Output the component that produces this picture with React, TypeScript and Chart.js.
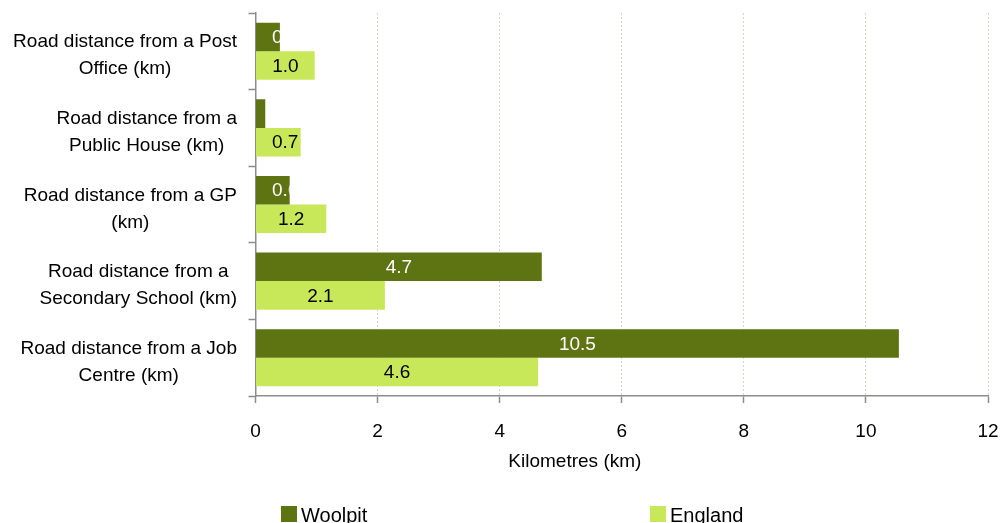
import React, { useEffect, useRef } from "react";
import { Chart, registerables } from "chart.js";

Chart.register(...registerables);

// ---- Data ----
const categories: string[][] = [
  ["Road distance from a Post", "Office (km)"],
  ["Road distance from a", "Public House (km)"],
  ["Road distance from a GP", "(km)"],
  ["Road distance from a", "Secondary School (km)"],
  ["Road distance from a Job", "Centre (km)"],
];
const seriesNames = ["Woolpit", "England"];
const woolpit = [0.4, 0.16, 0.56, 4.69, 10.54];
const england = [0.97, 0.74, 1.16, 2.12, 4.63];
const xTicks = [0, 2, 4, 6, 8, 10, 12];
const xTitle = "Kilometres (km)";

// ---- Styles ----
const FONT = "'Liberation Sans', Arial, sans-serif";
const colors = ["#5e7413", "#c8e85a"];
const labelColors = ["#ffffff", "#000000"];
const axisGray = "#8c8c8c";
const gridBeige = "#d8d3bf";

const customDraw = {
  id: "customDraw",
  afterDatasetsDraw(chart: any) {
    const { ctx, chartArea } = chart;
    ctx.save();
    ctx.font = `19px ${FONT}`;
    ctx.textAlign = "center";
    ctx.textBaseline = "middle";
    chart.data.datasets.forEach((ds: any, di: number) => {
      const meta = chart.getDatasetMeta(di);
      meta.data.forEach((el: any, i: number) => {
        const p = el.getProps(["x", "y", "base", "height"], true);
        const left = Math.min(p.base, p.x);
        const right = Math.max(p.base, p.x);
        const top = p.y - p.height / 2;
        const text = Number(ds.data[i]).toFixed(1);
        const cx = Math.max((left + right) / 2, chartArea.left + 29.7);
        ctx.save();
        ctx.beginPath();
        ctx.rect(left, top, right - left, p.height);
        ctx.clip();
        ctx.fillStyle = labelColors[di];
        ctx.fillText(text, cx, p.y + 1);
        ctx.restore();
      });
    });
    ctx.restore();
  },
  afterDraw(chart: any) {
    const { ctx, chartArea } = chart;
    const yScale = chart.scales.y;
    ctx.save();
    // category labels
    ctx.font = `19px ${FONT}`;
    ctx.fillStyle = "#000";
    ctx.textAlign = "center";
    ctx.textBaseline = "alphabetic";
    const rightEdge = chartArea.left - 18.5;
    (chart.data.labels as string[][]).forEach((lines, i) => {
      const cy = yScale.getPixelForTick(i);
      const widest = Math.max(...lines.map((l) => ctx.measureText(l).width));
      const cx = rightEdge - widest / 2;
      lines.forEach((l, li) => {
        ctx.fillText(l, cx, cy - 4 + li * 27);
      });
    });
    // x axis title
    ctx.fillText(xTitle, chartArea.left + (chartArea.right - chartArea.left) * 0.436, 467);
    // legend
    ctx.font = `20px ${FONT}`;
    ctx.textAlign = "left";
    const legendX = [281, 650];
    seriesNames.forEach((name, i) => {
      ctx.fillStyle = colors[i];
      ctx.fillRect(legendX[i], 506, 16, 16);
      ctx.fillStyle = "#000";
      ctx.fillText(name, legendX[i] + 20, 522);
    });
    ctx.restore();
  },
};

export default function App() {
  const ref = useRef<HTMLCanvasElement | null>(null);
  useEffect(() => {
    document.body.style.margin = "0";
    const canvas = ref.current!;
    const chart = new Chart(canvas, {
      type: "bar",
      data: {
        labels: categories as any,
        datasets: [
          { label: seriesNames[0], data: woolpit, backgroundColor: colors[0] },
          { label: seriesNames[1], data: england, backgroundColor: colors[1] },
        ],
      },
      options: {
        indexAxis: "y",
        responsive: false,
        animation: false,
        layout: { padding: { left: 0, right: 14, top: 13, bottom: 0 } },
        datasets: { bar: { barPercentage: 1, categoryPercentage: 0.745 } },
        plugins: { legend: { display: false }, tooltip: { enabled: false } },
        scales: {
          x: {
            type: "linear",
            min: 0,
            max: 12,
            afterBuildTicks: (s: any) => {
              s.ticks = xTicks.map((v) => ({ value: v }));
            },
            afterFit: (s: any) => {
              s.height = 127;
              s.paddingLeft = 0;
              s.paddingRight = 0;
            },
            grid: {
              color: gridBeige,
              lineWidth: 1,
              tickColor: axisGray,
              tickLength: 7,
              tickBorderDash: [],
              tickWidth: 1.5,
            },
            border: { color: axisGray, width: 1.5, dash: [2, 2] },
            ticks: {
              font: { family: FONT, size: 19 },
              color: "#000",
              padding: 17,
              maxRotation: 0,
            },
          },
          y: {
            type: "category",
            afterFit: (s: any) => {
              s.width = 255.5;
            },
            grid: {
              drawOnChartArea: false,
              drawTicks: true,
              tickLength: 7,
              tickColor: axisGray,
              color: axisGray,
              tickWidth: 1.5,
              offset: true,
            },
            border: { color: axisGray, width: 1.5 },
            ticks: { display: false },
          },
        },
      },
      plugins: [customDraw],
    });
    return () => chart.destroy();
  }, []);
  return (
    <div style={{ width: 1002, height: 523 }}>
      <canvas ref={ref} width={1002} height={523} style={{ display: "block" }} />
    </div>
  );
}
